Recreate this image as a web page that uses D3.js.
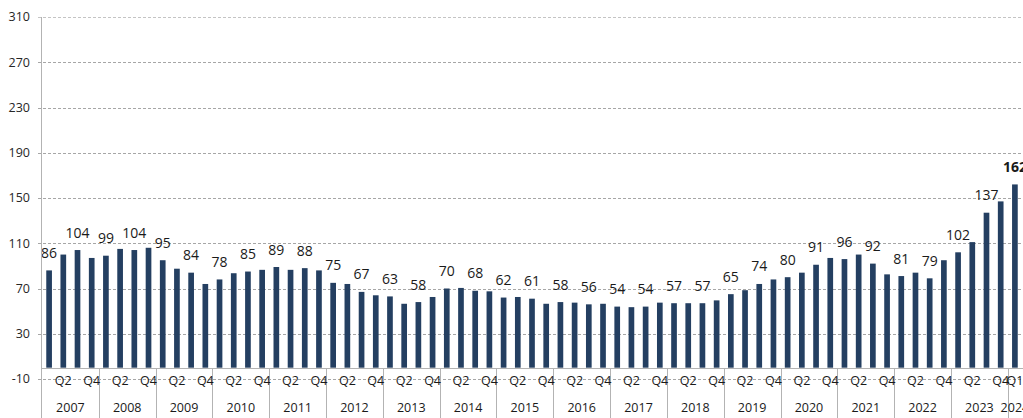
<!DOCTYPE html>
<html>
<head>
<meta charset="utf-8">
<script src="https://cdn.jsdelivr.net/npm/d3@7"></script>
<style>
  body { margin: 0; background: #fff; }
  svg { display: block; font-family: "Open Sans", sans-serif; }
</style>
</head>
<body>
<svg id="chart" width="1023" height="418"></svg>
<script>
// data, quarterly from 2007 Q1 to 2024 Q1
var years = ["2007", "2008", "2009", "2010", "2011", "2012", "2013", "2014", "2015",
    "2016", "2017", "2018", "2019", "2020", "2021", "2022", "2023", "2024"];
var quarters = ["Q1", "Q2", "Q3", "Q4"];
var values = [
    86, 100, 104, 97,
    99, 105, 104, 106,
    95, 87.5, 84, 74,
    78, 83.5, 85, 86.5,
    89, 86.5, 88, 86,
    75, 74, 67, 64,
    63, 56.5, 58, 62.5,
    70, 70.5, 68, 67.5,
    62, 62.5, 61, 56.5,
    58, 57.5, 56, 56.5,
    54, 53.5, 54, 57.5,
    57, 57, 57, 59.5,
    65, 68.5, 74, 78,
    80, 84, 91, 97,
    96, 100, 92, 82.5,
    81, 84, 79, 95,
    102, 111, 137, 147,
    162
];
var yTicks = [-10, 30, 70, 110, 150, 190, 230, 270, 310];

var BAR_COLOR = "#243f61";

// build category list
var cats = values.map(function(v, i) {
    return { i: i, year: years[Math.floor(i / 4)], q: quarters[i % 4], v: v };
});

var svg = d3.select("#chart");

var PLOT_LEFT = 42, PLOT_RIGHT = 1022;

var x = d3.scaleBand()
    .domain(cats.map((d) => d.i))
    .range([PLOT_LEFT, PLOT_RIGHT])
    .paddingInner(0.6)
    .paddingOuter(0.3);

var y = d3.scaleLinear().domain([-10, 310]).range([379, 17]);

var step = x.step();
function leftEdge(i) { return PLOT_LEFT + i * step; }

// gridlines
svg.append("g")
    .selectAll("line")
    .data(yTicks)
    .enter().append("line")
    .attr("x1", PLOT_LEFT - 4)
    .attr("x2", 1023)
    .attr("y1", (d) => Math.round(y(d)) + 0.5)
    .attr("y2", (d) => Math.round(y(d)) + 0.5)
    .attr("stroke", (d) => d == 310 ? "#c4c4c4" : "#a6a6a6")
    .attr("stroke-dasharray", "3,2");

// y tick labels
svg.append("g")
    .selectAll("text")
    .data(yTicks)
    .enter().append("text")
    .attr("x", 30)
    .attr("y", (d) => y(d))
    .attr("dy", "0.35em")
    .attr("text-anchor", "end")
    .style("font-size", "12.5px")
    .attr("fill", "#262626")
    .text((d) => d);

// bars
svg.append("g")
    .selectAll("rect")
    .data(cats)
    .enter().append("rect")
    .attr("x", (d) => x(d.i))
    .attr("width", x.bandwidth())
    .attr("y", (d) => y(d.v))
    .attr("height", (d) => y(0) - y(d.v))
    .attr("fill", BAR_COLOR);

// value labels on every other bar
svg.append("g")
    .selectAll("text")
    .data(cats.filter((d) => d.i % 2 == 0))
    .enter().append("text")
    .attr("x", (d) => x(d.i) + x.bandwidth() / 2)
    .attr("y", (d) => y(d.v) - 12.5)
    .attr("text-anchor", "middle")
    .style("font-size", "14px")
    .style("font-weight", (d) => d.i == values.length - 1 ? "bold" : "normal")
    .attr("fill", "#1a1a1a")
    .text((d) => Math.round(d.v));

// axes lines
var axisColor = "#b3b3b3";
var y0 = Math.round(y(0)) + 0.5;
svg.append("line")
    .attr("x1", PLOT_LEFT).attr("x2", 1023)
    .attr("y1", y0).attr("y2", y0)
    .attr("stroke", axisColor);
svg.append("line")
    .attr("x1", PLOT_LEFT - 0.5).attr("x2", PLOT_LEFT - 0.5)
    .attr("y1", y(310)).attr("y2", 418)
    .attr("stroke", axisColor);

// year separators
var yearStarts = years.map((yr, k) => k * 4).filter((i) => i > 0 && i < values.length);
svg.append("g")
    .selectAll("line")
    .data(yearStarts)
    .enter().append("line")
    .attr("x1", (i) => Math.round(leftEdge(i)) + 0.5)
    .attr("x2", (i) => Math.round(leftEdge(i)) + 0.5)
    .attr("y1", y0)
    .attr("y2", 418)
    .attr("stroke", axisColor);

// quarter labels (Q2, Q4, and the lone last quarter)
svg.append("g")
    .selectAll("text")
    .data(cats.filter((d) => d.i % 2 == 1 || d.i == values.length - 1))
    .enter().append("text")
    .attr("x", (d) => x(d.i) + x.bandwidth() / 2)
    .attr("y", 381)
    .attr("dy", "0.35em")
    .attr("text-anchor", "middle")
    .style("font-size", "12.5px")
    .attr("fill", "#1a1a1a")
    .text((d) => d.q);

// year labels
svg.append("g")
    .selectAll("text")
    .data(years)
    .enter().append("text")
    .attr("x", function(yr, k) {
        var n = Math.min(4, values.length - k * 4);
        return leftEdge(k * 4) + n * step / 2;
    })
    .attr("y", 408)
    .attr("dy", "0.35em")
    .attr("text-anchor", "middle")
    .style("font-size", "12.5px")
    .attr("fill", "#1a1a1a")
    .text((d) => d);
</script>
</body>
</html>
